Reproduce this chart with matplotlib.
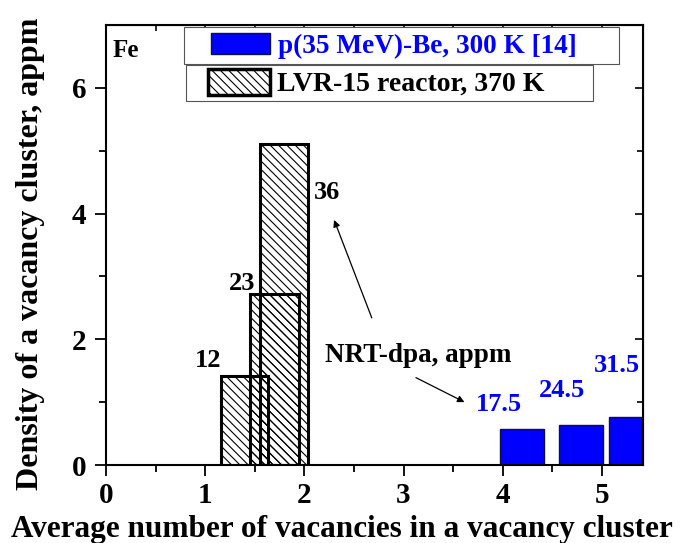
import matplotlib
matplotlib.use("Agg")
import matplotlib.pyplot as plt
from matplotlib.patches import Patch
from matplotlib.legend_handler import HandlerPatch

# LVR-15 reactor, 370 K (hatched bars)
lvr_center = [1.396, 1.70, 1.796]
lvr_width = [0.48, 0.494, 0.487]
lvr_density = [1.41, 2.72, 5.11]
lvr_dpa = ["12", "23", "36"]

# p(35 MeV)-Be, 300 K [14] (blue bars)
p_center = [4.195, 4.79, 5.30]
p_width = [0.447, 0.447, 0.447]
p_density = [0.58, 0.64, 0.76]
p_dpa = ["17.5", "24.5", "31.5"]

plt.rcParams['font.family'] = ['Liberation Serif', 'DejaVu Serif']
plt.rcParams['font.weight'] = 'bold'
plt.rcParams['hatch.linewidth'] = 0.8

fig = plt.figure(figsize=(6.95, 5.43), dpi=100)
ax = fig.add_axes([106 / 695, 1 - 465 / 543, 537 / 695, 440 / 543])

ax.bar(p_center, p_density, width=p_width, color='#0000ff', edgecolor='#101040', linewidth=1)
ax.bar(lvr_center, lvr_density, width=lvr_width, fill=False, hatch='\\\\\\\\',
       edgecolor='black', linewidth=2.2)

# dpa labels next to the bars
lvr_lab_pos = [(1.03, 1.67), (1.376, 2.88), (2.225, 4.34)]
for (x, y), s in zip(lvr_lab_pos, lvr_dpa):
    ax.text(x, y, s, ha='center', va='center', fontsize=19, fontweight='bold', color='black')
p_lab_pos = [(3.96, 0.97), (4.594, 1.19), (5.148, 1.59)]
for (x, y), s in zip(p_lab_pos, p_dpa):
    ax.text(x, y, s, ha='center', va='center', fontsize=19, fontweight='bold', color='#0000ff')

ax.text(2.21, 1.75, "NRT-dpa, appm", ha='left', va='center', fontsize=19.5, fontweight='bold')
ax.annotate("", xy=(2.29, 3.94), xytext=(2.69, 2.30),
            arrowprops=dict(arrowstyle='-|>', color='black', lw=0.9, mutation_scale=10))
ax.annotate("", xy=(3.64, 0.98), xytext=(3.10, 1.41),
            arrowprops=dict(arrowstyle='-|>', color='black', lw=0.9, mutation_scale=10))

ax.text(0.07, 6.59, "Fe", ha='left', va='center', fontsize=18, fontweight='bold')

ax.set_xlim(0, 5.415)
ax.set_ylim(0, 7)
ax.set_xticks([0, 1, 2, 3, 4, 5])
ax.set_xticks([0.5, 1.5, 2.5, 3.5, 4.5], minor=True)
ax.set_yticks([0, 2, 4, 6])
ax.set_yticks([1, 3, 5], minor=True)
ax.tick_params(axis='both', which='major', labelsize=21, length=8, width=1.3, direction='out')
ax.tick_params(axis='both', which='minor', length=5, width=1.3, direction='out')
ax.tick_params(axis='x', which='major', pad=4)
ax.tick_params(axis='y', which='major', pad=6)
for side in ['top', 'right', 'bottom', 'left']:
    ax.spines[side].set_linewidth(1.5)

# inward ticks on the top and right spines
ax2 = ax.secondary_xaxis('top')
ax2.set_xticks([0, 1, 2, 3, 4, 5])
ax2.set_xticks([0.5, 1.5, 2.5, 3.5, 4.5], minor=True)
ax2.tick_params(which='major', direction='in', length=6, width=1.2, labeltop=False)
ax2.tick_params(which='minor', direction='in', length=4, width=1.2)
ax3 = ax.secondary_yaxis('right')
ax3.set_yticks([0, 2, 4, 6])
ax3.set_yticks([1, 3, 5], minor=True)
ax3.tick_params(which='major', direction='in', length=6, width=1.2, labelright=False)
ax3.tick_params(which='minor', direction='in', length=4, width=1.2)

ax.set_xlabel("Average number of vacancies in a vacancy cluster", fontsize=22.5, fontweight='bold')
ax.xaxis.set_label_coords(0.44, -0.113)
ax.set_ylabel("Density of a vacancy cluster, appm", fontsize=23, fontweight='bold')
ax.yaxis.set_label_coords(-0.114, 0.48)

h1 = Patch(facecolor='#0000ff', edgecolor='#101040', linewidth=1)
h2 = Patch(facecolor='white', edgecolor='black', hatch='\\\\\\\\', linewidth=2.5)
leg1 = ax.legend([h1], ["p(35 MeV)-Be, 300 K [14]"], loc='upper left',
                 bbox_to_anchor=(0.145, 0.914, 0.81, 0.081), mode='expand',
                 prop={'size': 19.6, 'weight': 'bold'}, handlelength=2.96, handleheight=0.85,
                 handler_map={h1: HandlerPatch(xpad=0.8)},
                 fancybox=False, framealpha=1, edgecolor='#555555', borderpad=0.2,
                 borderaxespad=0, handletextpad=0.29)
for t in leg1.get_texts():
    t.set_color('#0000ff')
leg1.get_frame().set_linewidth(0.8)
ax.add_artist(leg1)
leg2 = ax.legend([h2], ["LVR-15 reactor, 370 K"], loc='upper left',
                 bbox_to_anchor=(0.149, 0.83, 0.758, 0.08), mode='expand',
                 prop={'size': 20, 'weight': 'bold'}, handlelength=2.87, handleheight=1.05,
                 handler_map={h2: HandlerPatch(xpad=0.64)},
                 fancybox=False, framealpha=1, edgecolor='#555555', borderpad=0.15,
                 borderaxespad=0, handletextpad=0.25)
leg2.get_frame().set_linewidth(0.8)

fig.savefig("out.png", dpi=100)
